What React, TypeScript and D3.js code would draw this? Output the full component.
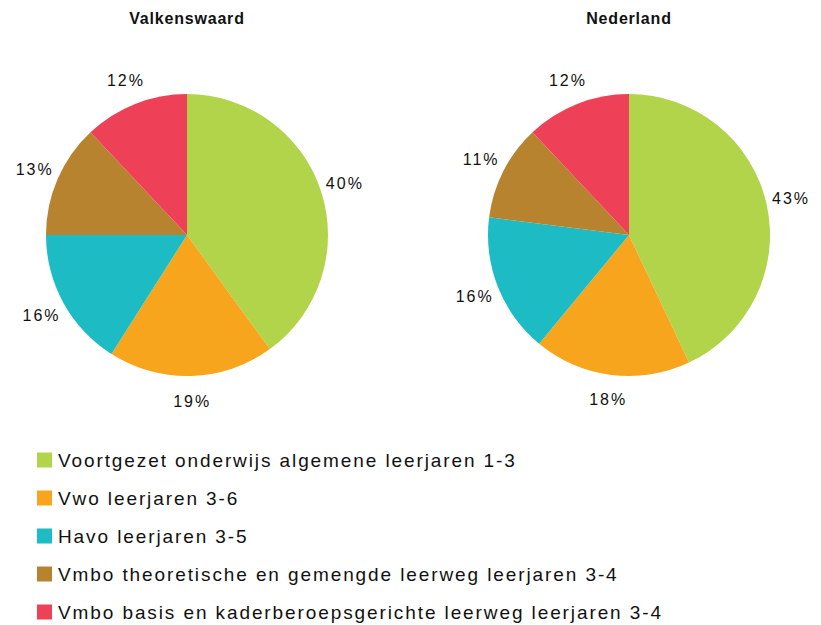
import React, { useRef, useEffect } from 'react';
import * as d3 from 'd3';

const regions = ['Valkenswaard', 'Nederland'];
const categories = [
  'Voortgezet onderwijs algemene leerjaren 1-3',
  'Vwo leerjaren 3-6',
  'Havo leerjaren 3-5',
  'Vmbo theoretische en gemengde leerweg leerjaren 3-4',
  'Vmbo basis en kaderberoepsgerichte leerweg leerjaren 3-4',
];
const valkenswaardValues = [40, 19, 16, 13, 12];
const nederlandValues = [43, 18, 16, 11, 12];

const palette = ['#B2D44A', '#F8A51E', '#1DBBC4', '#B8832F', '#EE4056'];

const App: React.FC = () => {
  const chartRef = useRef<HTMLDivElement>(null);

  useEffect(() => {
    document.body.style.margin = '0';
    if (!chartRef.current) return;
    d3.select(chartRef.current).select('svg').remove();

    const width = 821;
    const height = 625;
    const radius = 141;
    const font = '"Liberation Sans", Arial, sans-serif';

    const svg = d3.select(chartRef.current)
      .append('svg')
      .attr('width', width)
      .attr('height', height)
      .style('display', 'block')
      .style('background', '#fff');

    const color = d3.scaleOrdinal<string, string>().domain(categories).range(palette);
    const cx = d3.scalePoint<string>().domain(regions).range([187, 629]);
    const cy = 235;

    const pie = d3.pie<number>().sort(null).value(d => d);
    const arc = d3.arc<d3.PieArcDatum<number>>().innerRadius(0).outerRadius(radius);
    const labelArc = d3.arc<d3.PieArcDatum<number>>().innerRadius(166).outerRadius(166);

    const series = [valkenswaardValues, nederlandValues];

    regions.forEach((region, i) => {
      const g = svg.append('g')
        .attr('transform', `translate(${cx(region)},${cy})`);

      // Title
      svg.append('text')
        .attr('x', cx(region)!)
        .attr('y', 24)
        .attr('text-anchor', 'middle')
        .style('font-family', font)
        .style('font-size', '16px')
        .style('font-weight', 'bold')
        .style('letter-spacing', '0.8px')
        .style('fill', '#111')
        .text(region);

      const arcs = pie(series[i]);

      g.selectAll('path')
        .data(arcs)
        .enter()
        .append('path')
        .attr('d', arc)
        .attr('fill', (d, j) => color(categories[j]));

      // Percent labels
      g.selectAll('text.pct')
        .data(arcs)
        .enter()
        .append('text')
        .attr('class', 'pct')
        .attr('x', d => labelArc.centroid(d)[0])
        .attr('y', d => labelArc.centroid(d)[1])
        .attr('dy', '0.35em')
        .attr('text-anchor', 'middle')
        .style('font-family', font)
        .style('font-size', '16px')
        .style('letter-spacing', '2px')
        .style('fill', '#111')
        .text(d => `${d.data}%`);
    });

    // Legend
    const ly = d3.scalePoint<string>().domain(categories).range([460, 612]);
    const legend = svg.append('g');
    const rows = legend.selectAll('g')
      .data(categories)
      .enter()
      .append('g')
      .attr('transform', d => `translate(0,${ly(d)})`);

    rows.append('rect')
      .attr('x', 37)
      .attr('y', -7.5)
      .attr('width', 15)
      .attr('height', 15)
      .attr('fill', d => color(d));

    rows.append('text')
      .attr('x', 58)
      .attr('dy', '0.35em')
      .style('font-family', font)
      .style('font-size', '19px')
      .style('letter-spacing', '1.9px')
      .style('fill', '#111')
      .text(d => d);
  }, []);

  return <div ref={chartRef} />;
};

export default App;
